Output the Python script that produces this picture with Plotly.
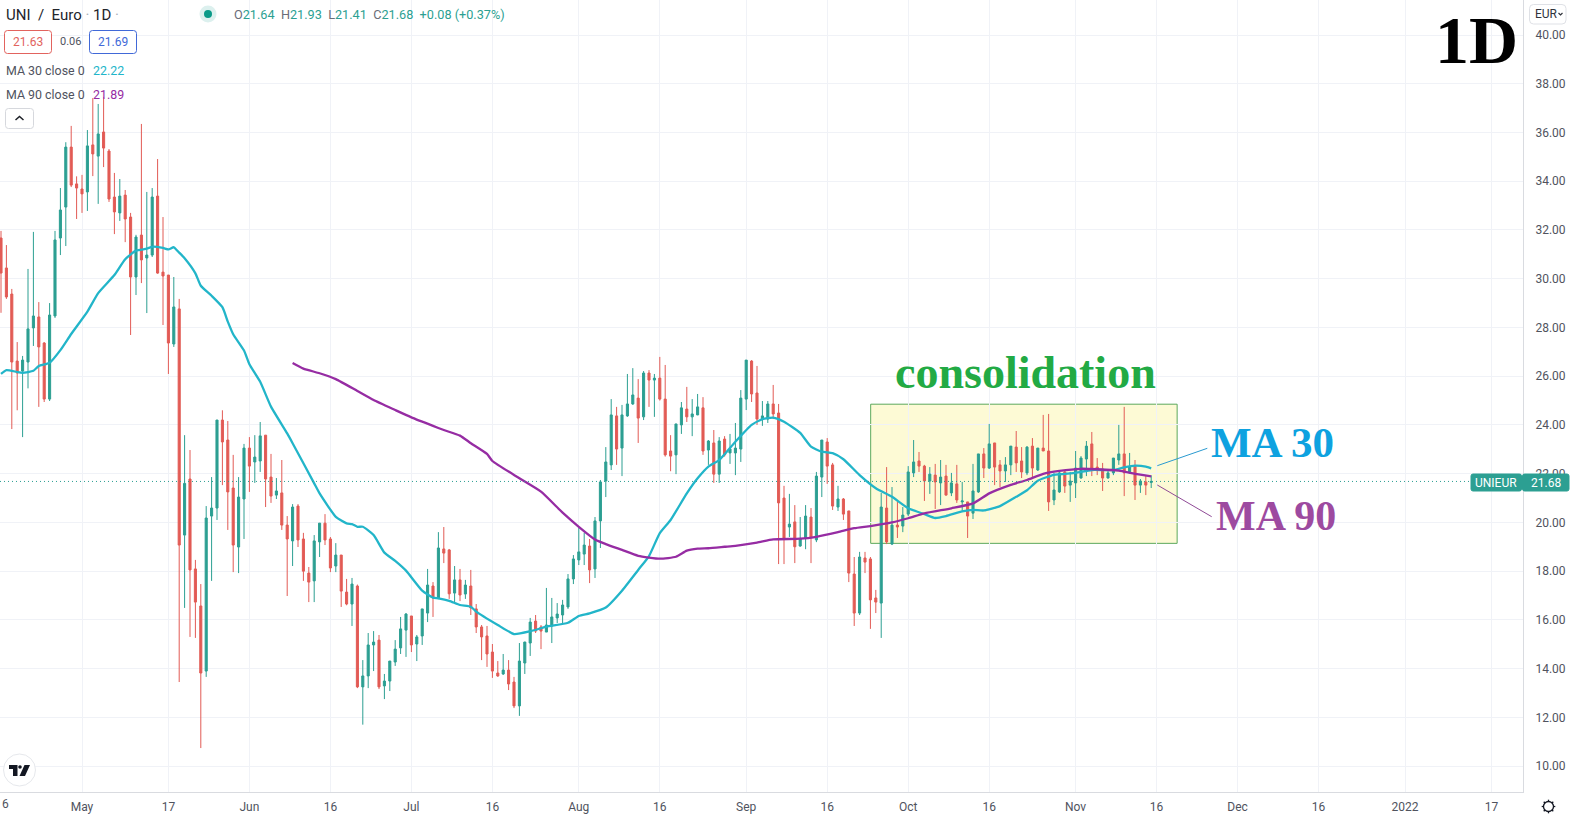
import plotly.graph_objects as go
import pandas as pd

WIDTH, HEIGHT = 1571, 819
PLOT_W, PLOT_H = 1523, 792

opens = [
    31.67, 30.44, 29.37, 26.62, 26.21, 26.58, 27.98, 28.43, 27.36, 25.06,
    28.47, 31.67, 32.94, 35.40, 33.89, 33.68, 33.56, 35.49, 35.03, 36.02,
    35.24, 33.35, 32.70, 33.43, 32.53, 30.07, 31.79, 30.85, 30.97, 33.39,
    30.27, 30.15, 27.32, 28.76, 19.48, 21.78, 18.09, 16.57, 13.90, 20.26,
    20.59, 24.20, 23.38, 21.41, 18.99, 20.96, 23.05, 22.48, 22.52, 23.58,
    21.86, 21.12, 21.21, 19.89, 19.24, 20.67, 19.32, 17.92, 17.60, 19.20,
    19.97, 19.32, 18.21, 18.66, 17.14, 16.65, 17.39, 13.25, 13.70, 14.97,
    15.17, 13.29, 13.49, 14.27, 14.85, 15.58, 16.16, 15.01, 15.34, 16.28,
    17.39, 16.90, 18.91, 18.87, 17.10, 17.64, 17.06, 17.39, 16.45, 15.71,
    15.34, 14.68, 13.82, 13.78, 13.94, 13.45, 12.47, 14.23, 15.05, 15.95,
    15.71, 15.50, 15.75, 16.08, 16.20, 16.53, 17.68, 18.46, 18.70, 19.03,
    18.09, 20.06, 21.70, 22.36, 24.37, 23.05, 24.37, 24.86, 25.10, 24.33,
    26.13, 25.84, 25.92, 25.06, 22.93, 22.77, 24.00, 24.65, 24.33, 24.41,
    24.70, 22.97, 23.26, 21.98, 23.42, 22.85, 22.85, 23.01, 25.06, 26.62,
    25.31, 24.24, 24.24, 24.86, 24.49, 21.00, 19.81, 20.02, 19.03, 19.36,
    20.22, 19.28, 21.86, 23.30, 22.36, 20.63, 20.96, 20.47, 17.88, 16.28,
    18.54, 18.50, 16.90, 16.69, 20.59, 19.11, 19.89, 19.85, 20.34, 22.03,
    22.52, 22.31, 21.70, 21.94, 21.62, 21.90, 21.21, 21.58, 20.84, 20.84,
    20.38, 21.25, 22.81, 22.23, 23.26, 22.36, 22.11, 22.36, 23.09, 22.52,
    22.03, 23.13, 22.15, 23.05, 22.93, 20.92, 21.25, 22.07, 21.53, 21.62,
    21.82, 22.60, 23.22, 22.27, 22.19, 21.82, 22.03, 22.56, 22.81, 22.03,
    22.31, 21.53, 21.66, 21.64,
]
highs = [
    31.96, 31.38, 29.58, 27.40, 26.83, 30.40, 31.92, 29.04, 27.40, 29.00,
    31.96, 33.72, 35.60, 36.27, 34.20, 34.26, 36.10, 37.41, 37.17, 37.46,
    35.32, 34.34, 34.09, 33.64, 32.70, 31.80, 36.35, 33.56, 33.72, 34.91,
    32.53, 30.15, 30.07, 29.17, 23.58, 22.97, 18.46, 17.47, 20.67, 21.86,
    24.20, 24.60, 24.16, 22.77, 21.86, 23.22, 23.50, 23.58, 24.12, 23.58,
    22.81, 21.82, 22.56, 20.26, 20.75, 20.75, 19.57, 18.17, 19.48, 19.97,
    20.34, 19.40, 19.15, 18.66, 17.68, 17.72, 17.45, 14.35, 15.46, 15.54,
    15.38, 13.78, 14.31, 15.17, 16.12, 16.28, 16.16, 15.38, 16.45, 18.09,
    17.55, 19.60, 19.81, 18.91, 18.21, 18.09, 17.64, 18.05, 16.65, 15.79,
    15.75, 15.01, 14.31, 14.60, 14.35, 13.66, 15.05, 15.10, 16.08, 16.20,
    15.79, 17.31, 16.90, 16.69, 16.82, 17.88, 18.66, 19.77, 19.57, 19.32,
    20.22, 21.74, 23.09, 25.06, 24.74, 24.82, 26.09, 26.33, 25.88, 26.21,
    26.25, 26.09, 26.79, 26.46, 23.58, 24.04, 24.94, 25.56, 25.06, 25.27,
    25.14, 23.38, 23.79, 23.50, 23.54, 23.63, 24.08, 25.43, 26.66, 26.66,
    26.42, 24.98, 24.98, 25.64, 24.86, 21.50, 21.17, 20.71, 20.22, 20.71,
    20.59, 22.07, 23.38, 23.46, 22.44, 21.50, 21.00, 20.47, 18.58, 18.79,
    18.79, 18.58, 17.23, 21.21, 22.27, 21.45, 20.84, 20.63, 22.31, 23.38,
    22.89, 22.36, 22.27, 22.40, 22.56, 22.36, 22.03, 22.36, 21.66, 20.84,
    22.40, 22.81, 23.05, 24.04, 23.26, 22.56, 22.68, 23.13, 23.75, 23.09,
    23.13, 23.46, 23.05, 24.41, 24.45, 22.03, 22.15, 22.15, 22.07, 22.93,
    22.72, 23.34, 23.71, 22.64, 22.44, 22.15, 22.64, 24.00, 24.74, 22.85,
    22.56, 21.78, 21.90, 21.93,
]
lows = [
    28.60, 29.17, 23.83, 24.60, 23.50, 25.50, 27.24, 24.74, 24.94, 24.98,
    28.39, 30.97, 31.34, 33.76, 32.45, 32.70, 32.78, 34.21, 33.07, 34.58,
    33.15, 31.83, 32.37, 31.50, 27.69, 29.33, 29.82, 28.59, 30.89, 30.20,
    28.10, 26.09, 27.20, 13.45, 16.49, 15.30, 15.26, 10.74, 13.66, 17.60,
    20.10, 21.53, 19.69, 17.96, 17.92, 19.32, 21.25, 21.62, 22.07, 20.63,
    20.80, 20.96, 19.69, 16.98, 18.21, 18.99, 17.60, 16.73, 16.73, 18.58,
    19.07, 17.96, 17.96, 16.53, 16.60, 15.75, 13.20, 11.70, 13.20, 13.90,
    13.16, 12.75, 13.08, 14.11, 14.60, 14.48, 14.68, 14.31, 14.97, 15.91,
    16.12, 16.85, 18.33, 16.86, 16.73, 16.77, 16.86, 16.20, 15.46, 14.35,
    14.07, 13.62, 13.66, 13.74, 13.12, 12.38, 12.06, 13.78, 14.52, 15.46,
    14.80, 15.50, 15.05, 15.87, 15.87, 16.45, 17.47, 18.25, 18.25, 17.51,
    17.72, 18.95, 21.04, 22.15, 22.36, 21.90, 24.33, 24.82, 23.26, 24.20,
    24.74, 24.33, 25.00, 22.70, 22.10, 21.98, 23.63, 24.12, 23.54, 24.40,
    22.77, 22.36, 21.62, 21.62, 22.70, 22.40, 21.94, 22.48, 24.61, 24.94,
    24.00, 23.96, 24.08, 24.24, 18.29, 18.29, 19.40, 18.33, 19.00, 18.90,
    18.33, 19.19, 21.04, 21.58, 20.51, 20.47, 20.10, 17.55, 15.75, 16.20,
    17.92, 15.63, 16.28, 15.26, 19.11, 19.07, 19.36, 19.60, 20.26, 21.86,
    22.07, 20.88, 21.17, 20.55, 20.71, 21.10, 21.08, 20.80, 20.43, 19.36,
    20.14, 21.21, 21.82, 22.19, 21.53, 21.45, 21.66, 21.94, 22.07, 21.82,
    21.94, 21.86, 22.11, 22.93, 20.47, 20.71, 21.21, 21.21, 20.84, 21.00,
    21.80, 21.90, 21.90, 21.94, 21.29, 21.80, 21.94, 22.36, 21.08, 22.00,
    20.92, 21.21, 21.12, 21.41,
]
closes = [
    30.23, 29.25, 26.58, 26.13, 26.66, 27.94, 28.47, 27.20, 25.06, 28.51,
    31.59, 32.82, 35.40, 33.84, 33.72, 33.48, 35.45, 35.12, 35.94, 35.36,
    33.27, 32.74, 33.39, 32.45, 30.07, 31.71, 30.77, 30.97, 33.35, 30.23,
    30.11, 27.36, 28.84, 19.07, 21.60, 18.05, 16.73, 13.82, 20.18, 20.59,
    24.20, 23.30, 21.25, 19.07, 21.04, 23.05, 22.31, 22.68, 23.55, 21.78,
    21.08, 21.29, 19.89, 19.32, 20.63, 19.28, 18.00, 17.55, 19.24, 19.97,
    19.28, 18.13, 18.66, 17.18, 16.65, 17.47, 13.25, 13.70, 14.97, 15.09,
    13.25, 13.49, 14.31, 14.80, 15.63, 16.24, 14.97, 15.30, 16.45, 17.43,
    16.90, 18.95, 18.74, 17.07, 17.64, 17.02, 17.43, 16.49, 15.71, 15.30,
    14.60, 13.90, 13.70, 13.94, 13.37, 12.47, 14.31, 15.09, 15.91, 15.54,
    15.54, 15.79, 16.12, 16.24, 16.61, 17.68, 18.50, 18.79, 19.07, 18.05,
    20.06, 21.66, 22.48, 24.41, 23.01, 24.41, 24.86, 25.23, 24.28, 26.13,
    25.84, 25.92, 25.06, 22.77, 22.72, 24.04, 24.70, 24.33, 24.45, 24.74,
    22.93, 23.34, 21.98, 23.34, 22.77, 23.01, 23.05, 25.10, 26.66, 25.27,
    24.24, 24.37, 24.86, 24.45, 20.80, 19.36, 19.93, 19.00, 19.32, 20.26,
    19.40, 21.90, 23.38, 22.31, 20.67, 20.96, 20.34, 17.92, 16.28, 18.58,
    18.37, 16.82, 16.73, 20.63, 19.20, 19.89, 19.81, 20.30, 22.07, 22.48,
    22.31, 21.70, 21.98, 21.66, 21.86, 21.12, 21.62, 20.92, 20.88, 20.26,
    21.29, 22.81, 22.23, 23.22, 22.27, 22.11, 22.36, 23.13, 22.44, 22.07,
    23.09, 22.23, 23.05, 22.93, 20.84, 21.33, 22.03, 21.49, 21.70, 22.23,
    22.64, 23.13, 22.23, 22.15, 21.82, 22.03, 22.64, 22.81, 22.03, 22.27,
    21.53, 21.70, 21.53, 21.68,
]

# moving averages, day number counted from the first candle
ma30_days = [
    0, 1, 3, 4, 6, 7, 9, 11, 13, 16, 18, 21, 23, 25, 27, 28, 30, 31, 32, 33,
    34, 36, 37, 39, 41, 42, 43, 45, 46, 48, 50, 53, 54, 58, 59, 62, 64, 65,
    66, 67, 69, 71, 73, 75, 78, 80, 81, 83, 85, 87, 88, 92, 95, 98, 101, 105,
    107, 109, 112, 115, 118, 120, 122, 124, 127, 129, 131, 133, 136, 139,
    141, 143, 145, 148, 150, 152, 154, 156, 159, 162, 165, 168, 171, 173,
    175, 178, 180, 182, 185, 188, 190, 192, 195, 199, 202, 206, 208, 210,
    212, 213,
]
ma30_values = [
    26.09, 26.25, 26.17, 26.14, 26.22, 26.42, 26.55, 27.07, 27.73, 28.65,
    29.41, 30.15, 30.80, 31.15, 31.23, 31.31, 31.26, 31.20, 31.29, 31.07,
    30.84, 30.22, 29.71, 29.30, 28.83, 28.24, 27.72, 27.05, 26.49, 25.77,
    24.75, 23.65, 23.25, 21.60, 21.19, 20.23, 19.96, 19.93, 19.82, 19.82,
    19.48, 18.76, 18.42, 18.02, 17.20, 16.91, 16.88, 16.78, 16.61, 16.54,
    16.34, 15.79, 15.42, 15.53, 15.72, 15.88, 16.16, 16.27, 16.51, 17.20,
    18.05, 18.62, 19.56, 20.10, 21.19, 21.81, 22.29, 22.56, 23.31, 24.00,
    24.24, 24.30, 24.13, 23.67, 23.11, 22.90, 22.84, 22.59, 21.94, 21.40,
    21.05, 20.58, 20.34, 20.18, 20.26, 20.45, 20.51, 20.49, 20.67, 21.05,
    21.32, 21.71, 21.95, 22.03, 22.15, 22.15, 22.26, 22.33, 22.29, 22.22,
]
ma90_days = [
    54, 56, 59, 62, 66, 69, 73, 76, 80, 82, 85, 87, 90, 91, 96, 100, 104,
    107, 110, 112, 115, 118, 122, 125, 127, 129, 131, 134, 136, 140, 143,
    148, 151, 155, 158, 161, 165, 168, 171, 176, 180, 183, 187, 190, 193,
    196, 200, 203, 207, 210, 213,
]
ma90_values = [
    26.54, 26.31, 26.12, 25.88, 25.39, 25.02, 24.61, 24.31, 23.96, 23.79,
    23.56, 23.25, 22.81, 22.52, 21.81, 21.26, 20.40, 19.82, 19.30, 19.11,
    18.87, 18.63, 18.51, 18.59, 18.84, 18.92, 18.94, 19.00, 19.04, 19.17,
    19.30, 19.33, 19.41, 19.60, 19.76, 19.85, 20.00, 20.17, 20.37, 20.58,
    20.78, 21.19, 21.54, 21.74, 21.99, 22.11, 22.20, 22.18, 22.12, 21.99,
    21.89,
]

tick_dates = [
    "2021-04-16", "2021-05-01", "2021-05-17", "2021-06-01", "2021-06-16",
    "2021-07-01", "2021-07-16", "2021-08-01", "2021-08-16", "2021-09-01",
    "2021-09-16", "2021-10-01", "2021-10-16", "2021-11-01", "2021-11-16",
    "2021-12-01", "2021-12-16", "2022-01-01", "2022-01-17",
]
tick_labels = [
    "", "May", "17", "Jun", "16", "Jul", "16", "Aug", "16", "Sep",
    "16", "Oct", "16", "Nov", "16", "Dec", "16", "2022", "17",
]
price_ticks = [10, 12, 14, 16, 18, 20, 22, 24, 26, 28, 30, 32, 34, 36, 38, 40]
last_price = 21.68

GREEN = "#2c9f92"
RED = "#e25b55"
TEAL_LINE = "#22b5c9"
PURPLE_LINE = "#962ca3"
GRID = "#f0f2f7"
AXIS = "#d9dbe0"
TEXT = "#50535e"

start = pd.Timestamp("2021-04-16")
dates = pd.date_range(start, periods=len(closes))
ma30_dates = [start + pd.Timedelta(days=d) for d in ma30_days]
ma90_dates = [start + pd.Timedelta(days=d) for d in ma90_days]
x_range = [start - pd.Timedelta(days=0.185), start + pd.Timedelta(days=281.85)]


def px(x):
    return x / PLOT_W


def py(y):
    return 1 - y / PLOT_H


def box(x0, y0, x1, y1, r=3, line="#d1d4dc", fill="rgba(0,0,0,0)", width=1):
    path = (
        f"M {px(x0 + r)} {py(y0)} L {px(x1 - r)} {py(y0)} "
        f"Q {px(x1)} {py(y0)} {px(x1)} {py(y0 + r)} L {px(x1)} {py(y1 - r)} "
        f"Q {px(x1)} {py(y1)} {px(x1 - r)} {py(y1)} L {px(x0 + r)} {py(y1)} "
        f"Q {px(x0)} {py(y1)} {px(x0)} {py(y1 - r)} L {px(x0)} {py(y0 + r)} "
        f"Q {px(x0)} {py(y0)} {px(x0 + r)} {py(y0)} Z"
    )
    return dict(type="path", xref="paper", yref="paper", path=path,
                line=dict(color=line, width=width), fillcolor=fill)


def poly(points, fill=None, line=None, width=1, close=True):
    path = "M " + " L ".join(f"{px(a)} {py(b)}" for a, b in points)
    if close:
        path += " Z"
    return dict(type="path", xref="paper", yref="paper", path=path,
                fillcolor=fill or "rgba(0,0,0,0)",
                line=dict(color=line or "rgba(0,0,0,0)", width=width))


def circle(cx, cy, r, fill=None, line=None, width=1):
    return dict(type="circle", xref="paper", yref="paper",
                x0=px(cx - r), x1=px(cx + r), y0=py(cy + r), y1=py(cy - r),
                fillcolor=fill or "rgba(0,0,0,0)",
                line=dict(color=line or "rgba(0,0,0,0)", width=width))


def label(x, y, text, size=12, color=TEXT, family="Roboto", anchor="left"):
    return dict(xref="paper", yref="paper", x=px(x), y=py(y), text=text,
                showarrow=False, xanchor=anchor, yanchor="middle",
                font=dict(size=size, color=color, family=family), borderpad=0)


fig = go.Figure()

fig.add_trace(go.Candlestick(
    x=dates, open=opens, high=highs, low=lows, close=closes,
    increasing=dict(line=dict(color=GREEN, width=1), fillcolor=GREEN),
    decreasing=dict(line=dict(color=RED, width=1), fillcolor=RED),
    whiskerwidth=0, showlegend=False, hoverinfo="skip",
))
fig.add_trace(go.Scatter(
    x=ma30_dates, y=ma30_values, mode="lines", showlegend=False,
    line=dict(color=TEAL_LINE, width=2.3, shape="spline", smoothing=0.5), hoverinfo="skip",
))
fig.add_trace(go.Scatter(
    x=ma90_dates, y=ma90_values, mode="lines", showlegend=False,
    line=dict(color=PURPLE_LINE, width=2.3, shape="spline", smoothing=0.5), hoverinfo="skip",
))

GEAR_X, GEAR_Y = 1548.5, 806.5
shapes = [
    # consolidation box
    dict(type="rect", xref="x", yref="y", layer="below",
         x0=start + pd.Timedelta(days=161.05), x1=start + pd.Timedelta(days=217.8),
         y0=19.14, y1=24.85, fillcolor="#fdfad5", line=dict(color="#5ca85c", width=1)),
    # last price line
    dict(type="line", xref="paper", yref="y", x0=0, x1=1, y0=last_price, y1=last_price,
         line=dict(color=GREEN, width=1, dash="1px,3px")),
    # arrows to the MA labels
    poly([(1157.3, 465.7), (1207.3, 448.3)], line="#2a9ad0", close=False),
    poly([(1157.3, 485), (1211.7, 516.7)], line="#8f4a96", close=False),
    # price tags
    box(1471, 474, 1521.5, 491, r=2, line=GREEN, fill=GREEN),
    box(1522.5, 474, 1569, 491, r=2, line=GREEN, fill=GREEN),
    # legend widgets
    circle(208, 14, 8.5, fill="#dcf0ee"),
    circle(208, 14, 4, fill="#0a9a88"),
    box(4.5, 30.5, 51.5, 53.5, r=3, line="#e2635e", fill="#ffffff"),
    box(89.5, 30.5, 136.5, 53.5, r=3, line="#4169d8", fill="#ffffff"),
    box(5.5, 108.5, 33.5, 128.5, r=3, line="#d6d8dd", fill="#ffffff"),
    poly([(15.5, 120), (19.5, 116.5), (23.5, 120)], line="#1c1f26", width=1.5, close=False),
    box(1529.5, 4.5, 1566, 24, r=4, line="#dfe1e6", fill="#ffffff"),
    poly([(1558.5, 13), (1560.5, 15), (1562.5, 13)], line="#30333b", width=1.2, close=False),
    # logo
    circle(19.5, 770, 16, fill="#ffffff", line="#e6e8ec"),
    poly([(9, 765), (17.5, 765), (17.5, 776), (13, 776), (13, 769), (9, 769)], fill="#131722"),
    circle(20, 767, 1.8, fill="#131722"),
    poly([(24.5, 765), (30, 765), (25, 776), (19.5, 776)], fill="#131722"),
    # settings icon
    circle(GEAR_X, GEAR_Y, 5, line="#131722", width=1.3),
]
for dx, dy in [(0, 1), (0, -1), (1, 0), (-1, 0), (.7, .7), (-.7, .7), (.7, -.7), (-.7, -.7)]:
    shapes.append(poly([(GEAR_X + 5 * dx, GEAR_Y + 5 * dy), (GEAR_X + 6.8 * dx, GEAR_Y + 6.8 * dy)],
                       line="#131722", width=1.3, close=False))

SERIF = "Liberation Serif"
annotations = [
    label(5, 15, "UNI&nbsp;&nbsp;/&nbsp;&nbsp;Euro <span style='color:#aaaeb8'>·</span> 1D "
                 "<span style='color:#aaaeb8'>·</span>", size=15, color="#22252c"),
    label(233, 15,
          "O<span style='color:#2c9f92'>21.64</span>  H<span style='color:#2c9f92'>21.93</span>"
          "  L<span style='color:#2c9f92'>21.41</span>  C<span style='color:#2c9f92'>21.68</span>"
          "  <span style='color:#2c9f92'>+0.08 (+0.37%)</span>", size=12.7, color="#6a6d78"),
    label(28, 42, "21.63", size=12, color="#e2635e", anchor="center"),
    label(70.5, 42, "0.06", size=11, color=TEXT, anchor="center"),
    label(113, 42, "21.69", size=12, color="#4169d8", anchor="center"),
    label(5, 70.5, "MA 30 close 0", size=12.4, color=TEXT),
    label(92, 70.5, "22.22", size=12.4, color="#22b5c9"),
    label(5, 94.5, "MA 90 close 0", size=12.4, color=TEXT),
    label(92, 94.5, "21.89", size=12.4, color="#962ca3"),
    label(1534, 14, "EUR", size=12, color="#30333b"),
    label(1496, 482.5, "UNIEUR", size=12, color="#ffffff", anchor="center"),
    label(1546, 482.5, "21.68", size=12, color="#ffffff", anchor="center"),
    label(1, 804, "6", size=12, color=TEXT),
    label(1025, 372, "<b>consolidation</b>", size=46, color="#22aa44", family=SERIF, anchor="center"),
    label(1272, 442, "<b>MA 30</b>", size=43, color="#0ea2e0", family=SERIF, anchor="center"),
    label(1276, 516, "<b>MA 90</b>", size=42, color="#9d4aa0", family=SERIF, anchor="center"),
    label(1476.7, 40, "<b>1D</b>", size=68, color="#000000", family=SERIF, anchor="center"),
]

fig.update_layout(
    width=WIDTH, height=HEIGHT,
    margin=dict(l=0, r=WIDTH - PLOT_W, t=0, b=HEIGHT - PLOT_H, pad=0),
    paper_bgcolor="#ffffff", plot_bgcolor="#ffffff",
    showlegend=False, boxgap=0.45,
    font=dict(family="Roboto", size=12, color=TEXT),
    shapes=shapes, annotations=annotations,
    xaxis=dict(
        type="date", range=x_range, rangeslider=dict(visible=False),
        tickmode="array", tickvals=tick_dates, ticktext=tick_labels,
        showgrid=True, gridcolor=GRID, gridwidth=1, zeroline=False,
        showline=True, linecolor=AXIS, linewidth=1, ticks="", ticklabelstandoff=4,
        tickfont=dict(family="Roboto", size=12, color=TEXT),
    ),
    yaxis=dict(
        side="right", range=[8.937, 41.436], tickmode="array",
        tickvals=price_ticks, ticktext=[f"{v:.2f}" for v in price_ticks],
        showgrid=True, gridcolor=GRID, gridwidth=1, zeroline=False,
        showline=True, linecolor=AXIS, linewidth=1, ticks="", ticklabelstandoff=9,
        tickfont=dict(family="Roboto", size=12, color=TEXT),
    ),
)

fig.write_html("out.html", config=dict(displayModeBar=False),
               post_script="document.body.style.margin='0';document.body.style.overflow='hidden';")
